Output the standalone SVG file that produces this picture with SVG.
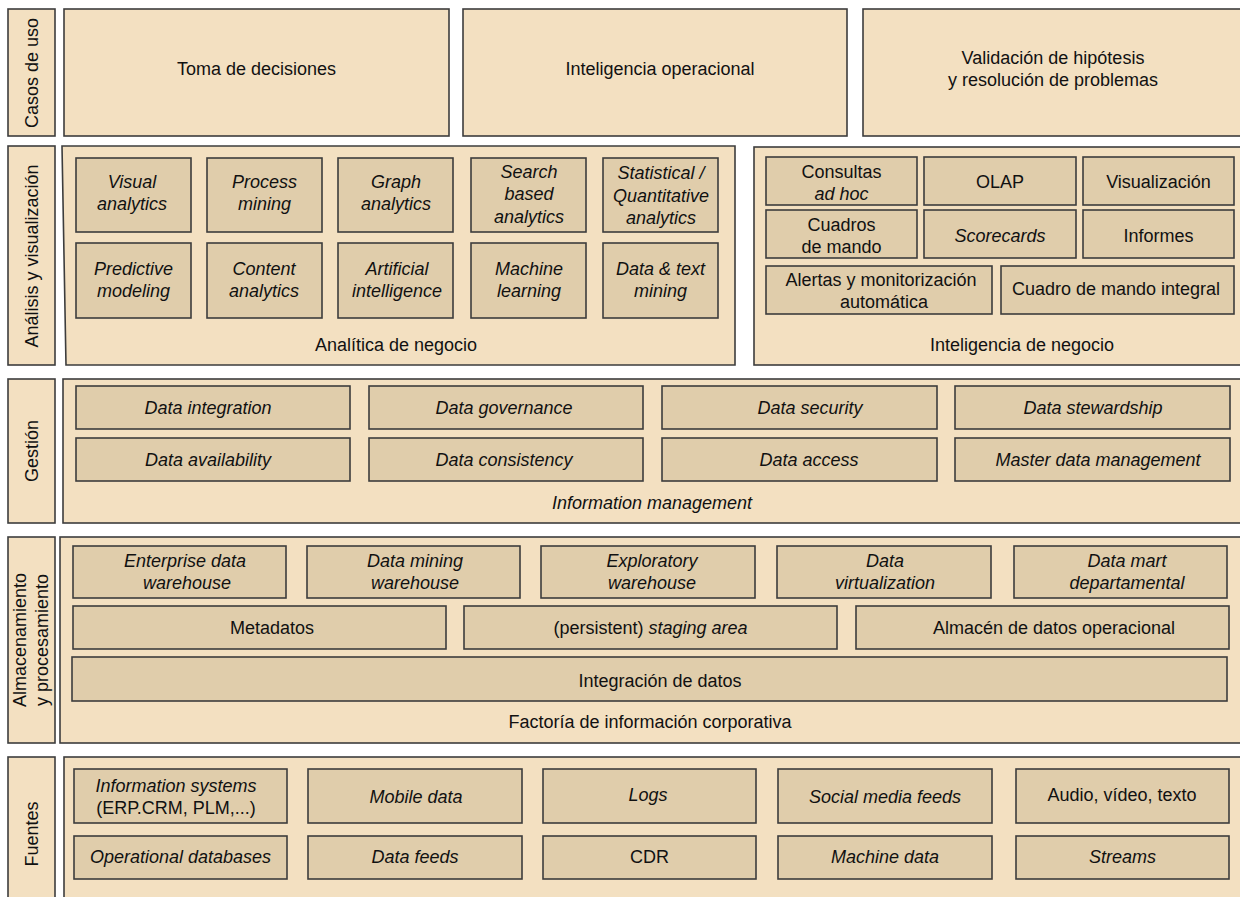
<svg xmlns="http://www.w3.org/2000/svg" width="1240" height="897" viewBox="0 0 1240 897">
  <style>
    .ctr { fill: #F3E0C1; stroke: #3d3d3d; stroke-width: 1.6; }
    .box { fill: #E0CDAB; stroke: #3d3d3d; stroke-width: 1.6; }
    text { font-family: "Liberation Sans", Arial, sans-serif; font-size: 18px; fill: #111; text-anchor: middle; }
    .i { font-style: italic; }
  </style>
  <rect width="1240" height="897" fill="#ffffff"/>

  <!-- Layer labels (rotated) -->
  <g id="labels">
    <g id="lbl-casos"><rect class="ctr" x="8" y="9" width="47" height="127"/><text transform="translate(37.5,73) rotate(-90)">Casos de uso</text></g>
    <g id="lbl-analisis"><rect class="ctr" x="8" y="146" width="47" height="219"/><text transform="translate(37.5,256) rotate(-90)">Análisis y visualización</text></g>
    <g id="lbl-gestion"><rect class="ctr" x="8" y="379" width="47" height="144"/><text transform="translate(37.5,451) rotate(-90)">Gestión</text></g>
    <g id="lbl-almacen"><rect class="ctr" x="8" y="537" width="47" height="206"/><text transform="translate(26,640) rotate(-90)">Almacenamiento</text><text transform="translate(48,640) rotate(-90)">y procesamiento</text></g>
    <g id="lbl-fuentes"><rect class="ctr" x="8" y="757" width="47" height="150"/><text transform="translate(37.5,834) rotate(-90)">Fuentes</text></g>
  </g>

  <!-- Use cases -->
  <g id="casos">
    <g id="toma"><rect class="ctr" x="64" y="9" width="385" height="127"/><text x="256.5" y="75">Toma de decisiones</text></g>
    <g id="intop"><rect class="ctr" x="463" y="9" width="384" height="127"/><text x="660" y="75">Inteligencia operacional</text></g>
    <g id="valid"><rect class="ctr" x="863" y="9" width="390" height="127"/><text x="1053" y="64">Validación de hipótesis</text><text x="1053" y="86">y resolución de problemas</text></g>
  </g>

  <!-- Business analytics -->
  <g id="analitica">
    <polygon class="ctr" points="62,146 735,146 735,365 66,365"/>
    <text x="396" y="351">Analítica de negocio</text>
    <g id="visual"><rect class="box" x="76" y="158" width="115" height="74"/><text class="i" x="132" y="188">Visual</text><text class="i" x="132" y="210">analytics</text></g>
    <g id="process"><rect class="box" x="207" y="158" width="115" height="74"/><text class="i" x="264.5" y="188">Process</text><text class="i" x="264.5" y="210">mining</text></g>
    <g id="graph"><rect class="box" x="338" y="158" width="115" height="74"/><text class="i" x="396" y="188">Graph</text><text class="i" x="396" y="210">analytics</text></g>
    <g id="search"><rect class="box" x="471" y="158" width="115" height="74"/><text class="i" x="529" y="178">Search</text><text class="i" x="529" y="200">based</text><text class="i" x="529" y="223">analytics</text></g>
    <g id="stat"><rect class="box" x="603" y="158" width="115" height="74"/><text class="i" x="661" y="179">Statistical /</text><text class="i" x="661" y="202">Quantitative</text><text class="i" x="661" y="224">analytics</text></g>
    <g id="predictive"><rect class="box" x="76" y="243" width="115" height="75"/><text class="i" x="133.5" y="275">Predictive</text><text class="i" x="133.5" y="297">modeling</text></g>
    <g id="content"><rect class="box" x="207" y="243" width="115" height="75"/><text class="i" x="264" y="275">Content</text><text class="i" x="264" y="297">analytics</text></g>
    <g id="ai"><rect class="box" x="338" y="243" width="115" height="75"/><text class="i" x="397" y="275">Artificial</text><text class="i" x="397" y="297">intelligence</text></g>
    <g id="ml"><rect class="box" x="471" y="243" width="115" height="75"/><text class="i" x="529" y="275">Machine</text><text class="i" x="529" y="297">learning</text></g>
    <g id="dtm"><rect class="box" x="603" y="243" width="115" height="75"/><text class="i" x="660.5" y="275">Data &amp; text</text><text class="i" x="660.5" y="297">mining</text></g>
  </g>

  <!-- Business intelligence -->
  <g id="bi">
    <rect class="ctr" x="754" y="147" width="500" height="218"/>
    <text x="1022" y="351">Inteligencia de negocio</text>
    <g id="consultas"><rect class="box" x="766" y="157" width="151" height="48"/><text x="841.5" y="178">Consultas</text><text class="i" x="841.5" y="200">ad hoc</text></g>
    <g id="olap"><rect class="box" x="924" y="157" width="152" height="48"/><text x="1000" y="188">OLAP</text></g>
    <g id="visualizacion"><rect class="box" x="1083" y="157" width="151" height="48"/><text x="1158.5" y="188">Visualización</text></g>
    <g id="cuadros"><rect class="box" x="766" y="210" width="151" height="48"/><text x="841.5" y="231">Cuadros</text><text x="841.5" y="253">de mando</text></g>
    <g id="scorecards"><rect class="box" x="924" y="210" width="152" height="48"/><text class="i" x="1000" y="242">Scorecards</text></g>
    <g id="informes"><rect class="box" x="1083" y="210" width="151" height="48"/><text x="1158.5" y="242">Informes</text></g>
    <g id="alertas"><rect class="box" x="766" y="266" width="226" height="48"/><text x="881" y="286">Alertas y monitorización</text><text x="884" y="308">automática</text></g>
    <g id="cmi"><rect class="box" x="1001" y="266" width="233" height="48"/><text x="1116" y="295">Cuadro de mando integral</text></g>
  </g>

  <!-- Information management -->
  <g id="gestion">
    <rect class="ctr" x="63" y="379" width="1190" height="144"/>
    <text class="i" x="652" y="509">Information management</text>
    <g id="dint"><rect class="box" x="76" y="386" width="274" height="43"/><text class="i" x="208" y="414">Data integration</text></g>
    <g id="dgov"><rect class="box" x="369" y="386" width="274" height="43"/><text class="i" x="504" y="414">Data governance</text></g>
    <g id="dsec"><rect class="box" x="662" y="386" width="275" height="43"/><text class="i" x="810" y="414">Data security</text></g>
    <g id="dstew"><rect class="box" x="955" y="386" width="275" height="43"/><text class="i" x="1093" y="414">Data stewardship</text></g>
    <g id="davail"><rect class="box" x="76" y="438" width="274" height="43"/><text class="i" x="208" y="466">Data availability</text></g>
    <g id="dcons"><rect class="box" x="369" y="438" width="274" height="43"/><text class="i" x="504" y="466">Data consistency</text></g>
    <g id="dacc"><rect class="box" x="662" y="438" width="275" height="43"/><text class="i" x="809" y="466">Data access</text></g>
    <g id="mdm"><rect class="box" x="955" y="438" width="275" height="43"/><text class="i" x="1098" y="466">Master data management</text></g>
  </g>

  <!-- Storage and processing -->
  <g id="almacen">
    <rect class="ctr" x="60" y="537" width="1193" height="206"/>
    <text x="650" y="728">Factoría de información corporativa</text>
    <g id="edw"><rect class="box" x="73" y="546" width="213" height="52"/><text class="i" x="185" y="567">Enterprise data</text><text class="i" x="187" y="589">warehouse</text></g>
    <g id="dmw"><rect class="box" x="307" y="546" width="213" height="52"/><text class="i" x="415" y="567">Data mining</text><text class="i" x="415" y="589">warehouse</text></g>
    <g id="exw"><rect class="box" x="541" y="546" width="214" height="52"/><text class="i" x="652" y="567">Exploratory</text><text class="i" x="652" y="589">warehouse</text></g>
    <g id="dvirt"><rect class="box" x="777" y="546" width="214" height="52"/><text class="i" x="885" y="567">Data</text><text class="i" x="885" y="589">virtualization</text></g>
    <g id="dmart"><rect class="box" x="1014" y="546" width="213" height="52"/><text class="i" x="1127" y="567">Data mart</text><text class="i" x="1127" y="589">departamental</text></g>
    <g id="meta"><rect class="box" x="73" y="606" width="373" height="43"/><text x="272" y="634">Metadatos</text></g>
    <g id="staging"><rect class="box" x="464" y="606" width="373" height="43"/><text x="650.5" y="634">(persistent) <tspan class="i">staging area</tspan></text></g>
    <g id="ods"><rect class="box" x="856" y="606" width="373" height="43"/><text x="1054" y="634">Almacén de datos operacional</text></g>
    <g id="integ"><rect class="box" x="72" y="657" width="1155" height="44"/><text x="660" y="687">Integración de datos</text></g>
  </g>

  <!-- Sources -->
  <g id="fuentes">
    <rect class="ctr" x="64" y="757" width="1189" height="150"/>
    <g id="infosys"><rect class="box" x="74" y="769" width="213" height="54"/><text class="i" x="176" y="792">Information systems</text><text x="176" y="814">(ERP.CRM, PLM,...)</text></g>
    <g id="mobile"><rect class="box" x="308" y="769" width="214" height="54"/><text class="i" x="416" y="803">Mobile data</text></g>
    <g id="logs"><rect class="box" x="543" y="769" width="213" height="54"/><text class="i" x="648" y="801">Logs</text></g>
    <g id="social"><rect class="box" x="778" y="769" width="214" height="54"/><text class="i" x="885" y="803">Social media feeds</text></g>
    <g id="audio"><rect class="box" x="1016" y="769" width="213" height="54"/><text x="1122" y="801">Audio, vídeo, texto</text></g>
    <g id="opdb"><rect class="box" x="74" y="836" width="213" height="43"/><text class="i" x="180.5" y="863">Operational databases</text></g>
    <g id="feeds"><rect class="box" x="308" y="836" width="214" height="43"/><text class="i" x="415" y="863">Data feeds</text></g>
    <g id="cdr"><rect class="box" x="543" y="836" width="213" height="43"/><text x="649.5" y="863">CDR</text></g>
    <g id="machine"><rect class="box" x="778" y="836" width="214" height="43"/><text class="i" x="885" y="863">Machine data</text></g>
    <g id="streams"><rect class="box" x="1016" y="836" width="213" height="43"/><text class="i" x="1122.5" y="863">Streams</text></g>
  </g>

  <!-- No connectors in this layered diagram -->
  <g id="connectors"/>
</svg>
